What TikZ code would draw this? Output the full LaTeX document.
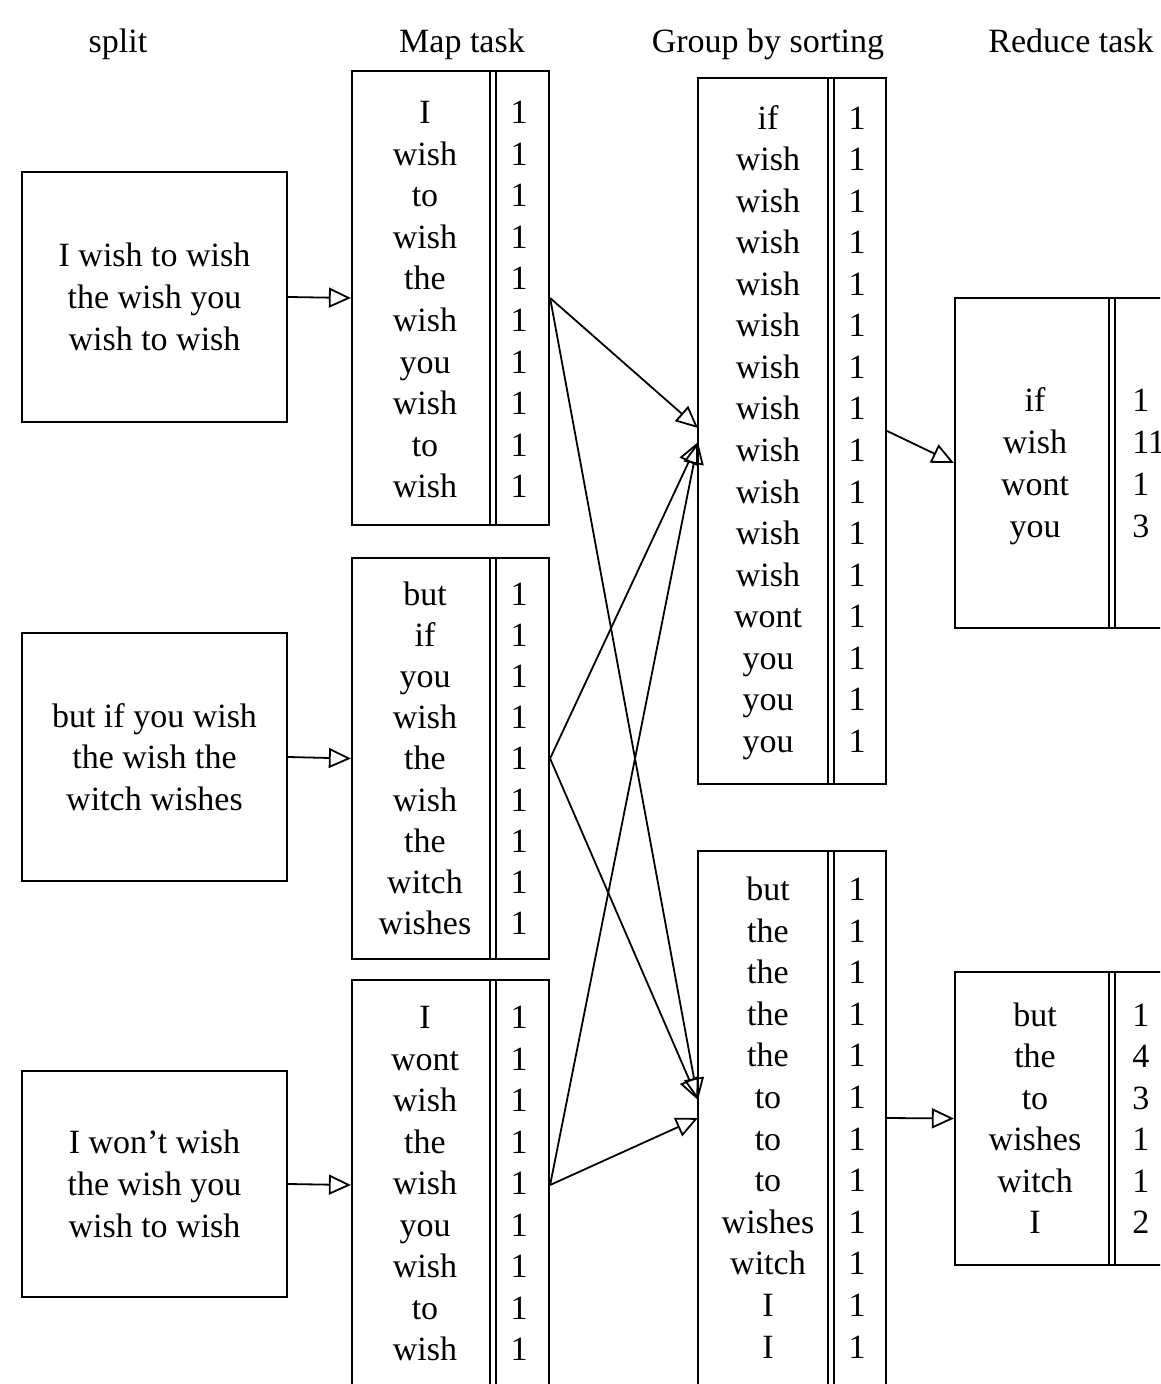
\documentclass[tikz,border=0pt]{standalone}
\usepackage{fontspec}
\setmainfont{Liberation Serif}
\usetikzlibrary{arrows.meta}
\begin{document}
\begin{tikzpicture}[x=0.5pt,y=-0.5pt,
  box/.style={draw, line width=1.1pt, inner sep=0pt},
  wd/.style={font=\fontsize{17}{20.8}\selectfont, anchor=base, inner sep=0pt},
  hdr/.style={font=\fontsize{17}{20}\selectfont, anchor=base, inner sep=0pt},
  splitbox/.style={box, minimum width=132.5pt, align=center, font=\fontsize{17}{20.85}\selectfont},
  conn/.style={line width=0.9pt, -{Triangle[open,length=11pt,width=10pt,line width=0.9pt]}},
  divider/.style={line width=1.1pt}]
\clip (0,0) rectangle (1160,1384);
\fill[white] (0,0) rectangle (1160,1384);

% headers
\node[hdr] (h1) at (118,53) {split};
\node[hdr] (h2) at (462,53) {Map task};
\node[hdr] (h3) at (768,53) {Group by sorting};
\node[hdr] (h4) at (1071,53) {Reduce task};

% split boxes
\node[splitbox, minimum height=125pt] (s1) at (154.5,297) {I wish to wish\\the wish you\\wish to wish};
\node[splitbox, minimum height=124pt] (s2) at (154.5,757) {but if you wish\\the wish the\\witch wishes};
\node[splitbox, minimum height=113pt] (s3) at (154.5,1184) {I won't wish\\the wish you\\wish to wish};

% map boxes
\node[box, minimum width=98.5pt, minimum height=227pt] (map1) at (450.5,298) {};
\node[box, minimum width=98.5pt, minimum height=200.5pt] (map2) at (450.5,758.5) {};
\node[box, minimum width=98.5pt, minimum height=205pt] (map3) at (450.5,1185) {};
\foreach \m in {map1,map2,map3}{
  \draw[divider] ([xshift=-30.25pt]\m.north east) -- ([xshift=-30.25pt]\m.south east);
  \draw[divider] ([xshift=-27pt]\m.north east) -- ([xshift=-27pt]\m.south east);
}
\foreach \w [count=\i from 0] in {I,wish,to,wish,the,wish,you,wish,to,wish}{
  \node[wd] (maw\i) at (425,{123.5+\i*41.6}) {\w};
  \node[wd] (man\i) at (519,{123.5+\i*41.6}) {1};
}
\foreach \w [count=\i from 0] in {but,if,you,wish,the,wish,the,witch,wishes}{
  \node[wd] (mbw\i) at (425,{605.5+\i*41.1}) {\w};
  \node[wd] (mbn\i) at (519,{605.5+\i*41.1}) {1};
}
\foreach \w [count=\i from 0] in {I,wont,wish,the,wish,you,wish,to,wish}{
  \node[wd] (mcw\i) at (425,{1028.5+\i*41.5}) {\w};
  \node[wd] (mcn\i) at (519,{1028.5+\i*41.5}) {1};
}

% group boxes
\node[box, minimum width=94pt, minimum height=353pt] (group1) at (792,431) {};
\node[box, minimum width=94pt, minimum height=267pt] (group2) at (792,1118) {};
\foreach \g in {group1,group2}{
  \draw[divider] ([xshift=-29.5pt]\g.north east) -- ([xshift=-29.5pt]\g.south east);
  \draw[divider] ([xshift=-26.5pt]\g.north east) -- ([xshift=-26.5pt]\g.south east);
}
\foreach \w [count=\i from 0] in {if,wish,wish,wish,wish,wish,wish,wish,wish,wish,wish,wish,wont,you,you,you}{
  \node[wd] (gaw\i) at (768,{129.5+\i*41.5}) {\w};
  \node[wd] (gan\i) at (857,{129.5+\i*41.5}) {1};
}
\foreach \w [count=\i from 0] in {but,the,the,the,the,to,to,to,wishes,witch,I,I}{
  \node[wd] (gbw\i) at (768,{900.5+\i*41.6}) {\w};
  \node[wd] (gbn\i) at (857,{900.5+\i*41.6}) {1};
}

% reduce boxes
\node[box, minimum width=110pt, minimum height=165pt] (reduce1) at (1065,463) {};
\node[box, minimum width=110pt, minimum height=146.5pt] (reduce2) at (1065,1118.5) {};
\foreach \r in {reduce1,reduce2}{
  \draw[divider] ([xshift=77.5pt]\r.north west) -- ([xshift=77.5pt]\r.south west);
  \draw[divider] ([xshift=80.5pt]\r.north west) -- ([xshift=80.5pt]\r.south west);
}
\foreach \w/\n [count=\i from 0] in {if/1,wish/11,wont/1,you/3}{
  \node[wd] (raw\i) at (1035,{411.5+\i*42}) {\w};
  \node[wd, anchor=base west] (ran\i) at (1132,{411.5+\i*42}) {\n};
}
\foreach \w/\n [count=\i from 0] in {but/1,the/4,to/3,wishes/1,witch/1,I/2}{
  \node[wd] (rbw\i) at (1035,{1026.5+\i*41.4}) {\w};
  \node[wd, anchor=base west] (rbn\i) at (1132,{1026.5+\i*41.4}) {\n};
}

% connectors
\draw[conn] (s1.east) -- (map1.west);
\draw[conn] (s2.east) -- (map2.west);
\draw[conn] (s3.east) -- (map3.west);

\coordinate (g1a) at (698,428);
\coordinate (g1b) at (698,442);
\coordinate (g2a) at (698,1100);
\coordinate (g2b) at (698,1118);
\draw[conn] (map1.east) -- (g1a);
\draw[conn] (map1.east) -- (g2a);
\draw[conn] (map2.east) -- (g1b);
\draw[conn] (map2.east) -- (g2a);
\draw[conn] (map3.east) -- (g1b);
\draw[conn] (map3.east) -- (g2b);

\draw[conn] (group1.east) -- (reduce1.west);
\draw[conn] (group2.east) -- (reduce2.west);
\end{tikzpicture}
\end{document}
